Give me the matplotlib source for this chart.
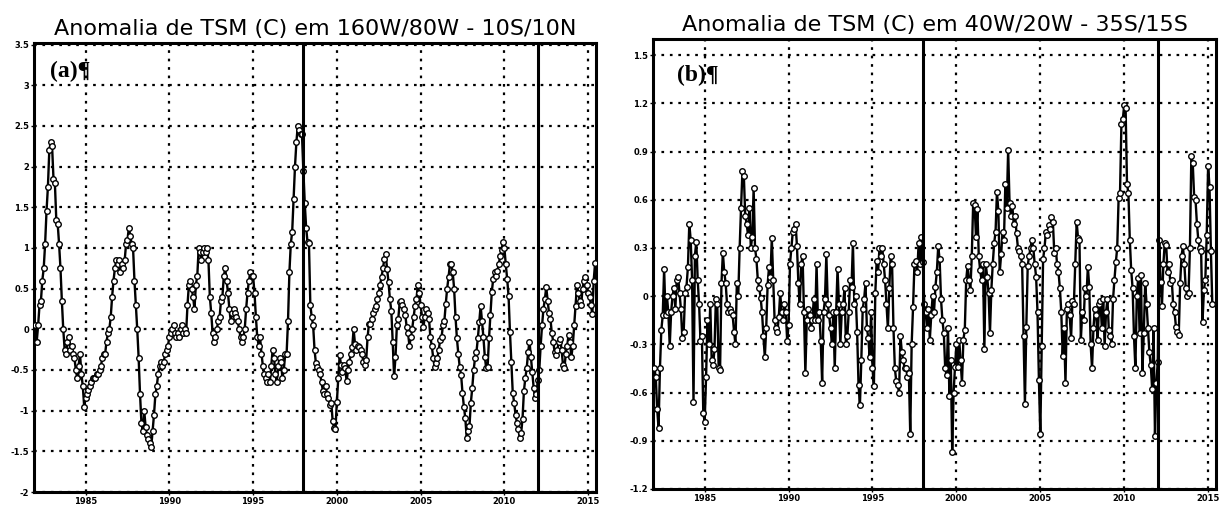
import numpy as np
import matplotlib
matplotlib.use("Agg")
import matplotlib.pyplot as plt

# ---------------- data (monthly anomalies, Jan 1982 onward) ----------------
pacific_1982_1990 = [
    0.05, -0.15, 0.05, 0.3, 0.35, 0.6, 0.75, 1.05, 1.45, 1.75, 2.2, 2.3,
    2.25, 1.85, 1.8, 1.35, 1.3, 1.05, 0.75, 0.35, 0.0, -0.25, -0.3, -0.15,
    -0.1, -0.25, -0.2, -0.3, -0.35, -0.5, -0.6, -0.45, -0.3, -0.55, -0.7, -0.95,
    -0.85, -0.8, -0.75, -0.7, -0.65, -0.6, -0.6, -0.6, -0.55, -0.55, -0.5, -0.45,
    -0.35, -0.3, -0.3, -0.15, -0.05, 0.0, 0.15, 0.4, 0.6, 0.75, 0.85, 0.8,
    0.85, 0.7, 0.8, 0.75, 0.85, 1.05, 1.1, 1.25, 1.15, 1.05, 1.0, 0.6,
    0.3, 0.0, -0.35, -0.8, -1.15, -1.25, -1.0, -1.2, -1.3, -1.35, -1.4, -1.45,
    -1.25, -1.05, -0.8, -0.7, -0.55, -0.45, -0.4, -0.45, -0.4, -0.3, -0.25, -0.2,
    -0.1, -0.05, 0.0, 0.05, -0.05, -0.1, -0.05, -0.1, 0.0, 0.05, -0.05, 0.0,
]
pacific_1991_1999 = [
    -0.05, 0.3, 0.55, 0.6, 0.5, 0.4, 0.25, 0.55, 0.65, 1.0, 0.95, 0.85,
    0.95, 1.0, 0.95, 1.0, 0.85, 0.4, 0.2, -0.05, -0.15, -0.1, 0.0, 0.1,
    0.15, 0.35, 0.4, 0.65, 0.75, 0.6, 0.45, 0.25, 0.1, 0.2, 0.25, 0.2,
    0.15, 0.1, 0.0, -0.1, -0.15, -0.1, 0.0, 0.25, 0.45, 0.6, 0.7, 0.65,
    0.65, 0.45, 0.15, -0.1, -0.2, -0.1, -0.3, -0.45, -0.55, -0.6, -0.65, -0.55,
    -0.65, -0.45, -0.25, -0.35, -0.55, -0.65, -0.45, -0.35, -0.4, -0.6, -0.5, -0.3,
    -0.3, 0.1, 0.7, 1.05, 1.2, 1.6, 2.0, 2.3, 2.5, 2.45, 2.4, 2.4,
    1.95, 1.55, 1.25, 1.07, 1.06, 0.3, 0.15, 0.05, -0.25, -0.42, -0.46, -0.5,
    -0.55, -0.65, -0.76, -0.8, -0.7, -0.8, -0.85, -0.93, -0.9, -1.13, -1.21, -1.23,
]
pacific_2000_2008 = [
    -0.89, -0.6, -0.32, -0.44, -0.52, -0.44, -0.48, -0.64, -0.5, -0.4, -0.3, -0.22,
    0.0, -0.18, -0.26, -0.2, -0.22, -0.26, -0.3, -0.4, -0.44, -0.38, -0.1, 0.07,
    0.07, 0.13, 0.2, 0.25, 0.29, 0.37, 0.45, 0.55, 0.64, 0.75, 0.86, 0.92,
    0.74, 0.58, 0.37, 0.23, -0.15, -0.58, -0.34, 0.05, 0.13, 0.33, 0.35, 0.3,
    0.25, 0.18, 0.03, -0.05, -0.2, -0.1, 0.01, 0.15, 0.29, 0.37, 0.54, 0.45,
    0.3, 0.15, 0.03, 0.15, 0.25, 0.2, 0.13, -0.1, -0.2, -0.35, -0.46, -0.42,
    -0.35, -0.25, -0.13, -0.1, 0.05, 0.1, 0.31, 0.5, 0.64, 0.8, 0.8, 0.7,
    0.5, 0.15, -0.11, -0.3, -0.46, -0.56, -0.78, -0.95, -1.09, -1.33, -1.25, -1.19,
    -0.9, -0.72, -0.5, -0.35, -0.28, -0.11, 0.09, 0.29, 0.1, -0.1, -0.34, -0.48,
]
pacific_2009_2015 = [
    -0.46, -0.11, 0.17, 0.46, 0.62, 0.7, 0.66, 0.72, 0.8, 0.9, 0.98, 1.07,
    1.0, 0.8, 0.62, 0.41, -0.03, -0.4, -0.78, -0.9, -1.05, -1.15, -1.23, -1.33,
    -1.28, -1.1, -0.76, -0.6, -0.48, -0.28, -0.15, -0.34, -0.52, -0.72, -0.85, -0.8,
    -0.62, -0.5, -0.2, 0.05, 0.25, 0.37, 0.52, 0.35, 0.2, 0.13, -0.05, -0.15,
    -0.28, -0.32, -0.25, -0.15, -0.12, -0.25, -0.44, -0.48, -0.3, -0.2, -0.07, -0.15,
    -0.34, -0.2, 0.05, 0.29, 0.54, 0.45, 0.35, 0.3, 0.5, 0.6, 0.64, 0.55,
    0.45, 0.4, 0.3, 0.19, 0.6, 0.82,
]

atlantic_1982_1990 = [
    -0.45, -0.5, -0.7, -0.82, -0.45, -0.21, -0.12, 0.17, -0.12, 0.0, -0.1, -0.31,
    -0.1, 0.0, 0.05, -0.08, 0.1, 0.12, 0.02, -0.08, -0.26, -0.22, 0.02, 0.06,
    0.18, 0.45, 0.35, 0.1, -0.66, 0.25, 0.34, 0.1, -0.05, -0.28, -0.25, -0.73,
    -0.78, -0.5, -0.15, -0.3, -0.05, -0.4, -0.43, -0.33, -0.02, -0.05, -0.45, -0.46,
    0.08, 0.27, 0.15, 0.08, -0.05, -0.1, -0.08, -0.1, -0.12, -0.22, -0.3, 0.08,
    0.0, 0.3, 0.55, 0.78, 0.75, 0.5, 0.45, 0.38, 0.55, 0.3, 0.37, 0.67,
    0.3, 0.23, 0.1, 0.05, -0.01, -0.1, -0.25, -0.38, -0.2, 0.07, 0.18, 0.12,
    0.36, 0.1, -0.15, -0.2, -0.22, -0.13, 0.02, -0.1, -0.15, -0.05, -0.1, -0.28,
    -0.18, 0.2, 0.3, 0.4, 0.42, 0.45, 0.31, 0.08, -0.05, 0.2, 0.25, -0.1,
]
atlantic_1991_1999 = [
    -0.48, -0.15, -0.08, -0.12, -0.2, -0.15, -0.02, -0.15, 0.2, -0.15, -0.1, -0.28,
    -0.54, -0.1, -0.02, 0.26, -0.05, -0.12, -0.2, -0.3, -0.1, -0.45, -0.1, 0.17,
    -0.05, -0.3, -0.1, -0.05, 0.05, -0.3, -0.25, -0.1, 0.1, 0.06, 0.33, -0.05,
    0.0, -0.22, -0.55, -0.68, -0.4, -0.08, -0.02, 0.08, -0.2, -0.26, -0.38, -0.1,
    -0.45, -0.56, 0.02, 0.22, 0.15, 0.3, 0.25, 0.3, 0.2, 0.1, -0.05, -0.2,
    0.05, 0.25, 0.2, -0.2, -0.45, -0.53, -0.55, -0.6, -0.25, -0.35, -0.4, -0.45,
    -0.45, -0.5, -0.48, -0.86, -0.3, -0.07, 0.2, 0.22, 0.15, 0.33, 0.2, 0.37,
    0.21, -0.05, -0.1, -0.2, -0.08, -0.27, -0.12, 0.0, -0.1, 0.06, 0.15, 0.31,
    0.23, -0.02, -0.15, -0.23, -0.45, -0.49, -0.2, -0.62, -0.4, -0.97, -0.6, -0.44,
]
atlantic_2000_2008 = [
    -0.3, -0.44, -0.27, -0.4, -0.54, -0.27, -0.21, 0.1, 0.19, 0.1, 0.04, 0.25,
    0.58, 0.57, 0.37, 0.54, 0.25, 0.16, 0.1, 0.2, -0.33, 0.2, 0.12, 0.02,
    -0.23, 0.04, 0.2, 0.33, 0.4, 0.65, 0.53, 0.15, 0.26, 0.4, 0.35, 0.7,
    0.55, 0.91, 0.58, 0.5, 0.56, 0.45, 0.5, 0.39, 0.3, 0.28, 0.25, 0.2,
    -0.25, -0.67, -0.19, 0.19, 0.25, 0.3, 0.35, 0.3, 0.2, 0.12, -0.1, -0.52,
    -0.86, -0.31, 0.23, 0.3, 0.4, 0.38, 0.44, 0.42, 0.49, 0.46, 0.27, 0.3,
    0.2, 0.15, 0.05, -0.1, -0.37, -0.2, -0.54, -0.08, -0.05, -0.12, -0.26, -0.03,
    -0.05, 0.2, 0.46, 0.36, 0.35, -0.27, -0.1, -0.15, 0.05, 0.0, 0.18, 0.06,
    -0.3, -0.45, -0.2, -0.08, -0.12, -0.27, -0.05, -0.03, -0.2, -0.02, -0.31, -0.1,
]
atlantic_2009_2015 = [
    -0.02, -0.21, -0.25, -0.3, -0.02, 0.1, 0.21, 0.3, 0.61, 0.64, 1.07, 1.1,
    1.19, 1.17, 0.7, 0.64, 0.35, 0.16, 0.05, -0.25, -0.45, 0.0, 0.11, -0.23,
    0.13, -0.48, -0.23, 0.08, -0.05, -0.2, -0.35, -0.43, -0.58, -0.2, -0.87, -0.54,
    -0.41, 0.35, 0.09, -0.06, 0.2, 0.33, 0.32, 0.15, 0.2, 0.08, 0.1, -0.05,
    -0.1, -0.19, -0.22, -0.24, 0.08, 0.25, 0.31, 0.2, 0.05, 0.0, 0.02, 0.3,
    0.87, 0.83, 0.62, 0.6, 0.45, 0.35, 0.3, 0.28, -0.16, 0.04, 0.1, 0.38,
    0.81, 0.68, 0.28, -0.05,
]

pacific = np.array(pacific_1982_1990 + pacific_1991_1999 + pacific_2000_2008 + pacific_2009_2015)
atlantic = np.array(atlantic_1982_1990 + atlantic_1991_1999 + atlantic_2000_2008 + atlantic_2009_2015)

start_year = 1982
marker_years = [1998.0, 2012.0]
x_ticks = [1985, 1990, 1995, 2000, 2005, 2010, 2015]

titles = ["Anomalia de TSM (C) em 160W/80W - 10S/10N",
          "Anomalia de TSM (C) em 40W/20W - 35S/15S"]
panel_labels = ["(a)\u00b6", "(b)\u00b6"]
y_ticks_a = [-2, -1.5, -1, -0.5, 0, 0.5, 1, 1.5, 2, 2.5, 3, 3.5]
y_labels_a = ["-2", "-1.5", "-1", "-0.5", "0", "0.5", "1", "1.5", "2", "2.5", "3", "3.5"]
y_ticks_b = [-1.2, -0.9, -0.6, -0.3, 0, 0.3, 0.6, 0.9, 1.2, 1.5]
y_labels_b = ["-1.2", "-0.9", "-0.6", "-0.3", "0", "0.3", "0.6", "0.9", "1.2", "1.5"]

# ---------------- figure ----------------
W, H = 1220, 507
fig = plt.figure(figsize=(W / 100, H / 100), dpi=100)


def box(l, t, r, b):
    return [l / W, 1 - b / H, (r - l) / W, (b - t) / H]


axA = fig.add_axes(box(34, 43, 596, 492))
axB = fig.add_axes(box(653, 39, 1216, 489))

specs = [
    (axA, pacific, (-2, 3.52), y_ticks_a, y_labels_a, titles[0], panel_labels[0], (0.028, 0.936)),
    (axB, atlantic, (-1.2, 1.6), y_ticks_b, y_labels_b, titles[1], panel_labels[1], (0.042, 0.92)),
]

for ax, series, ylim, yt, yl, title, plab, lpos in specs:
    t = start_year + np.arange(len(series)) / 12.0
    ax.plot(t, series, color="black", lw=1.7, marker="o", ms=4.0,
            mfc="white", mec="black", mew=1.0, zorder=3)
    for xv in marker_years:
        ax.axvline(xv, color="black", lw=2.2, zorder=4)
    ax.set_xlim(1981.92, 2015.47)
    ax.set_ylim(*ylim)
    ax.set_xticks(x_ticks)
    ax.set_xticklabels([str(v) for v in x_ticks], fontsize=6, fontweight="bold")
    ax.set_yticks(yt)
    ax.set_yticklabels(yl, fontsize=6, fontweight="bold")
    ax.tick_params(length=2, width=1, pad=1.5)
    ax.grid(True, color="black", linestyle=(0, (1.2, 2.6)), linewidth=1.6)
    ax.set_axisbelow(True)
    for s in ax.spines.values():
        s.set_linewidth(2.2)
    ax.set_title(title, fontsize=16, family="DejaVu Sans", pad=6)
    ax.text(lpos[0], lpos[1], plab, transform=ax.transAxes, fontsize=17,
            fontweight="bold", family="Liberation Serif", va="center", ha="left")

fig.savefig("out.png", dpi=100)
